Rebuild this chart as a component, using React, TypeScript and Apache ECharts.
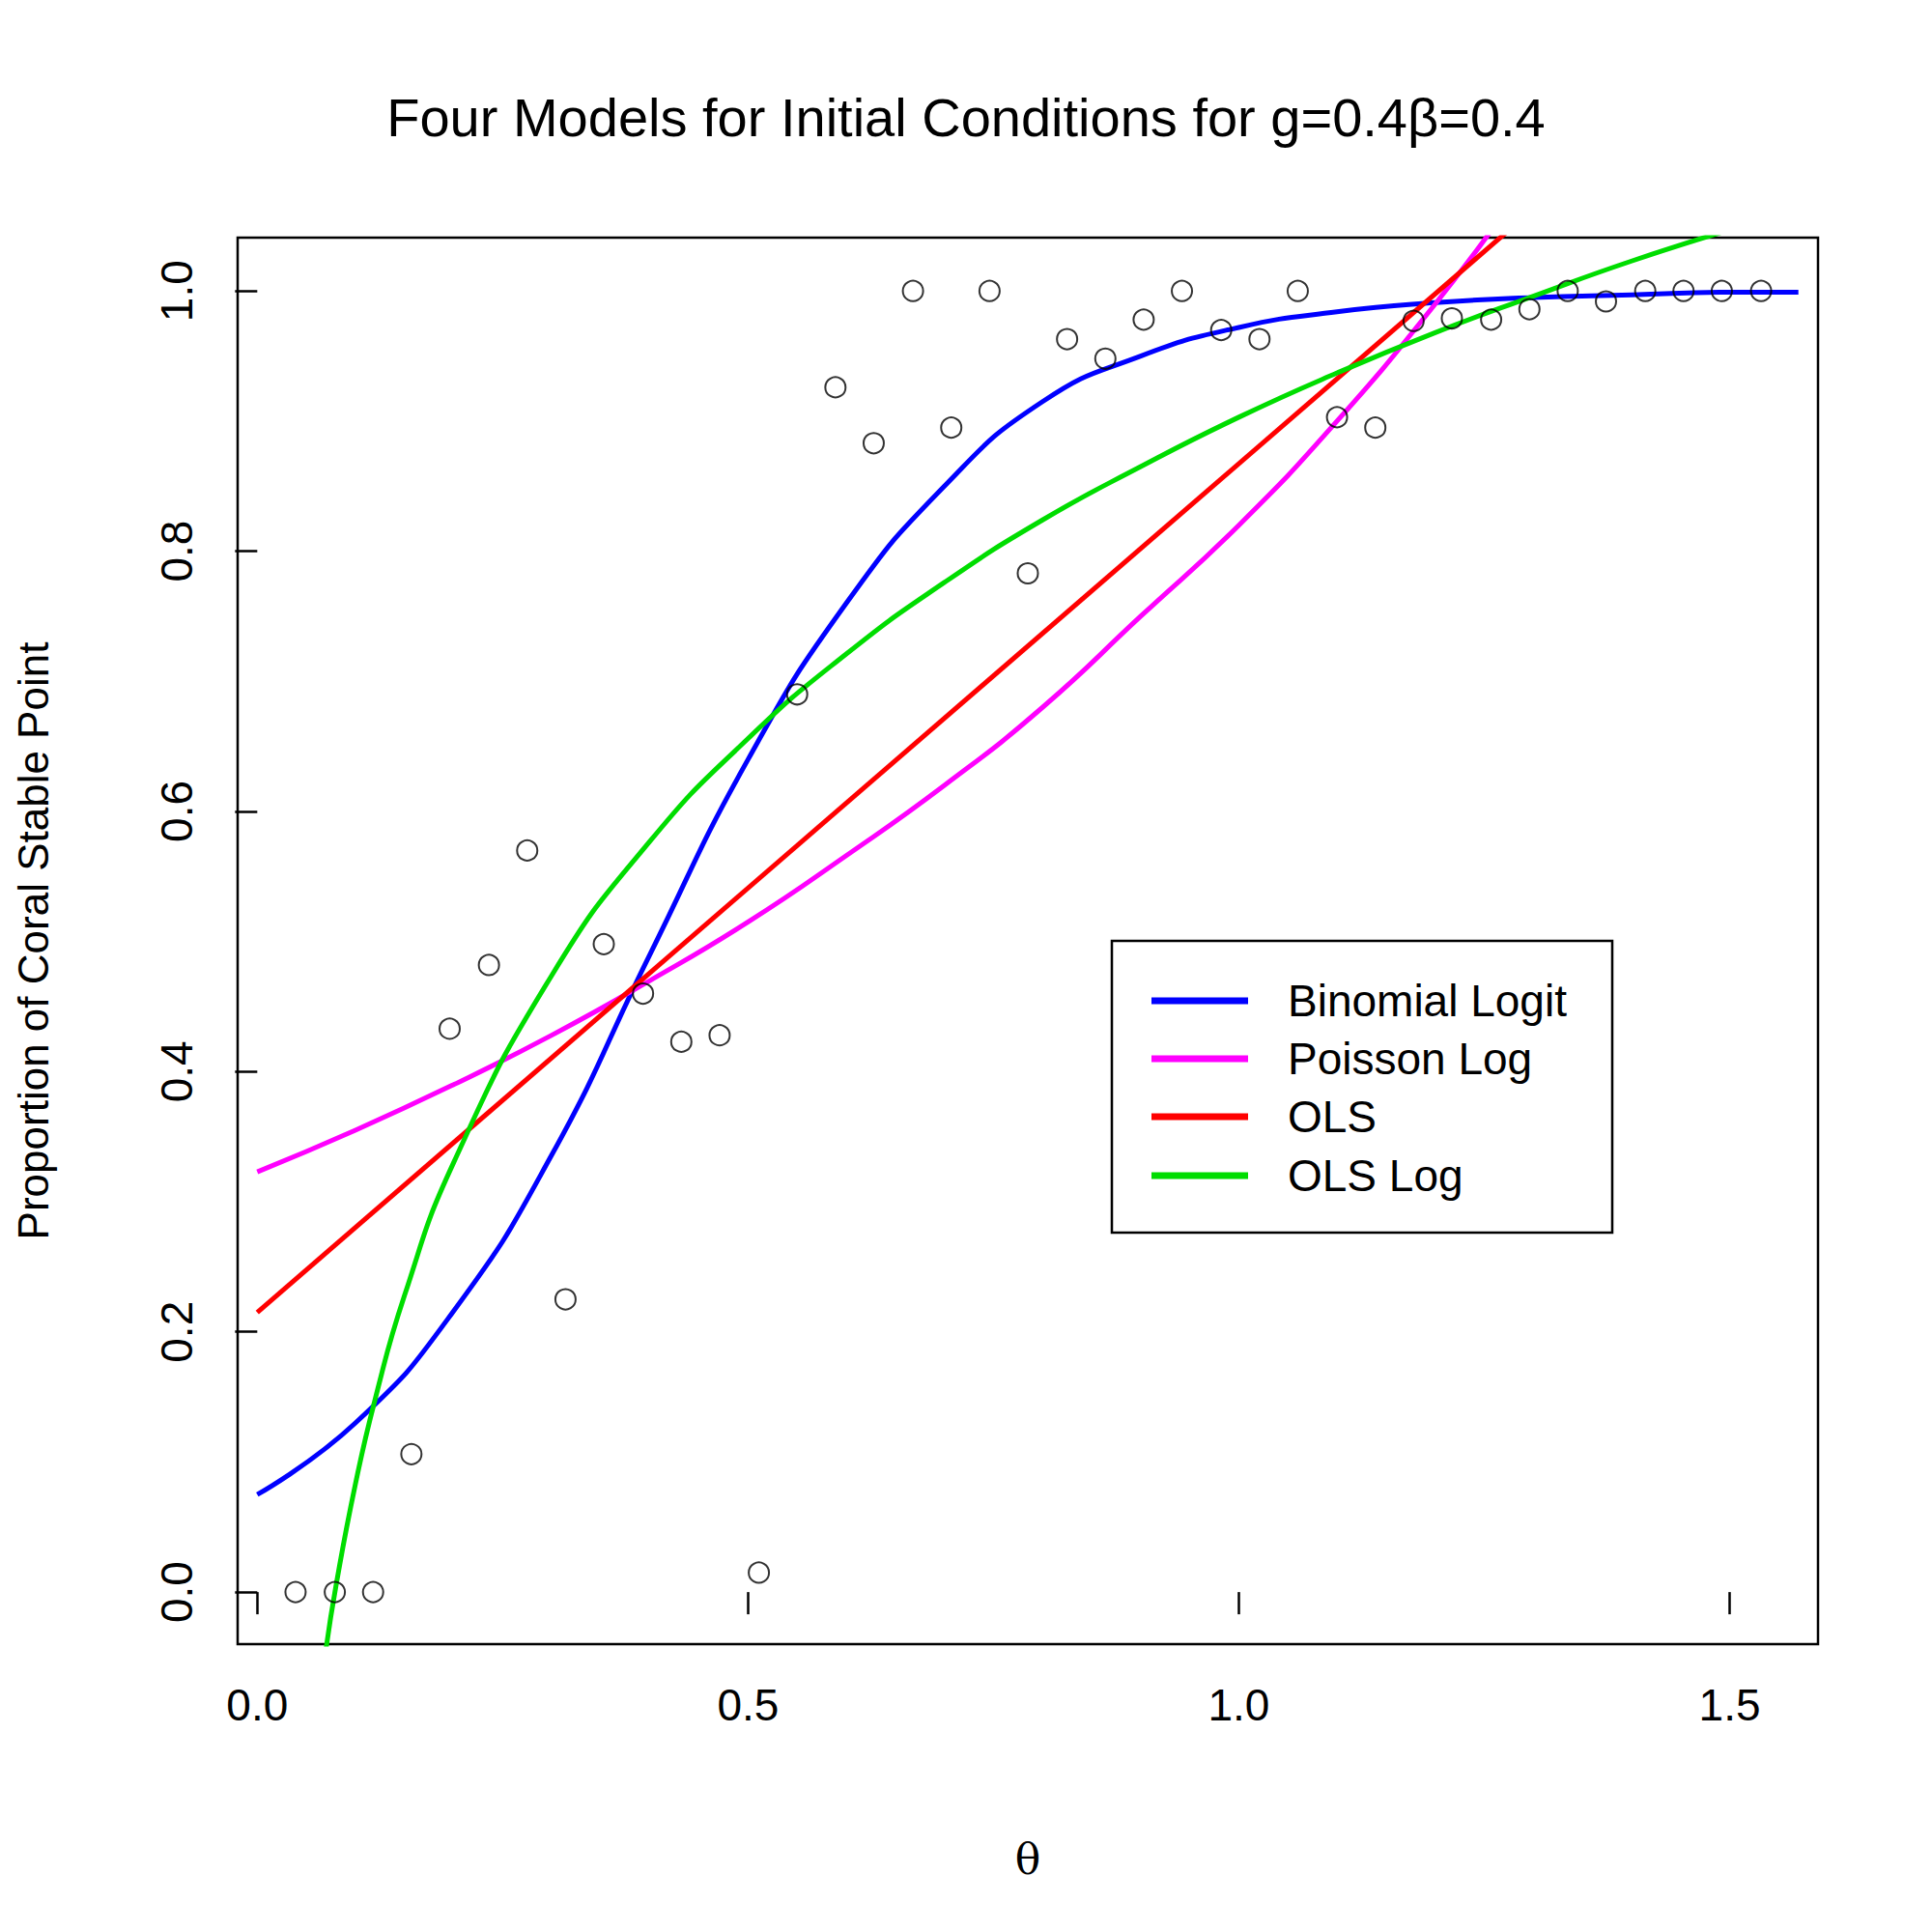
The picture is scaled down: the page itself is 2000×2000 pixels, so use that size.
import React, { useEffect, useRef } from "react";
import * as echarts from "echarts";

const thetaPts = [0.039,0.079,0.118,0.157,0.196,0.236,0.275,0.314,0.353,0.393,0.432,0.471,0.511,0.550,0.589,0.628,0.668,0.707,0.746,0.785,0.825,0.864,0.903,0.942,0.982,1.021,1.060,1.100,1.139,1.178,1.217,1.257,1.296,1.335,1.374,1.414,1.453,1.492,1.532];
const propPts = [0,0,0,0.106,0.433,0.482,0.570,0.225,0.498,0.460,0.423,0.428,0.015,0.690,0.926,0.883,1.0,0.895,1.0,0.783,0.963,0.948,0.978,1.0,0.970,0.963,1.0,0.903,0.895,0.977,0.979,0.978,0.986,1.0,0.992,1.0,1.0,1.0,1.0];

const logitX = [0,0.1,0.2,0.3,0.4,0.5,0.6,0.7,0.8,0.9,1.0,1.1,1.2,1.3,1.4,1.5,1.57];
const logitY = [0.075,0.13,0.216,0.336,0.49,0.64,0.76,0.85,0.915,0.95,0.972,0.984,0.991,0.995,0.997,0.999,0.999];
const poisX = [0,0.1,0.2,0.3,0.4,0.5,0.6,0.7,0.8,0.9,1.0,1.1,1.2,1.27];
const poisY = [0.323,0.355,0.39,0.428,0.47,0.515,0.566,0.62,0.68,0.75,0.82,0.90,0.99,1.06];
const olsX = [0,1.3];
const olsY = [0.215,1.063];
const olsLogX = [0.07,0.08,0.1,0.12,0.15,0.2,0.3,0.4,0.5,0.6,0.7,0.8,0.9,1.0,1.1,1.2,1.3,1.4,1.5];
const olsLogY = [-0.044,0.004,0.083,0.148,0.228,0.330,0.474,0.577,0.656,0.721,0.776,0.824,0.865,0.903,0.937,0.968,0.996,1.023,1.047];

const names = ["Binomial Logit","Poisson Log","OLS","OLS Log"];
const colors = ["#0000ff","#ff00ff","#ff0000","#00dd00"];
const xTicks = [0,0.5,1,1.5];
const yTicks = [0,0.2,0.4,0.6,0.8,1.0];

const zip = (a: number[], b: number[]) => a.map((v, i) => [v, b[i]]);

export default function App() {
  const ref = useRef<HTMLDivElement>(null);
  useEffect(() => {
    const chart = echarts.init(ref.current!, null, { renderer: "svg" });
    const font = "Arial, Liberation Sans, sans-serif";
    const lineSeries = [zip(logitX, logitY), zip(poisX, poisY), zip(olsX, olsY), zip(olsLogX, olsLogY)].map((d, i) => ({
      type: "line", name: names[i], data: d, smooth: true, showSymbol: false, symbol: "none",
      lineStyle: { color: colors[i], width: 5 }, clip: true, z: 2,
    }));
    const legendYs = [1036, 1096, 1156, 1217];
    chart.setOption({
      animation: false,
      backgroundColor: "#fff",
      title: { text: "Four Models for Initial Conditions for g=0.4β=0.4", left: "center", top: 88, textAlign: "left",
        textStyle: { fontFamily: font, fontSize: 56, fontWeight: "normal", color: "#000" } },
      grid: { left: 246, top: 246, width: 1636, height: 1456, show: true, borderColor: "#000", borderWidth: 2.5, backgroundColor: "transparent" },
      xAxis: { type: "value", min: -0.02, max: 1.59, name: "θ", nameLocation: "middle", nameGap: 200,
        nameTextStyle: { fontFamily: "DejaVu Serif, serif", fontSize: 44, color: "#000" },
        axisLine: { show: false }, splitLine: { show: false },
        axisTick: { show: true, inside: false, length: 23, lineStyle: { color: "#000", width: 2.5 }, customValues: xTicks },
        axisLabel: { customValues: xTicks, margin: 40, fontFamily: font, fontSize: 46, color: "#000", formatter: (v: number) => v.toFixed(1) } },
      yAxis: { type: "value", min: -0.04, max: 1.041, name: "Proportion of Coral Stable Point", nameLocation: "middle", nameGap: 190,
        nameTextStyle: { fontFamily: font, fontSize: 44, color: "#000" },
        axisLine: { show: false }, splitLine: { show: false },
        axisTick: { show: true, inside: false, length: 23, lineStyle: { color: "#000", width: 2.5 }, customValues: yTicks },
        axisLabel: { customValues: yTicks, rotate: 90, margin: 40, fontFamily: font, fontSize: 46, color: "#000", formatter: (v: number) => v.toFixed(1) } },
      series: [
        { type: "scatter", data: zip(thetaPts, propPts), symbol: "circle", symbolSize: 21,
          itemStyle: { color: "transparent", borderColor: "#000", borderWidth: 2 }, z: 3 },
        ...lineSeries,
      ],
      graphic: [
        { type: "rect", shape: { x: 1151, y: 974, width: 518, height: 302 }, style: { fill: "#fff", stroke: "#000", lineWidth: 2.5 }, z: 10 },
        ...legendYs.flatMap((y, i) => [
          { type: "line", shape: { x1: 1192, y1: y, x2: 1292, y2: y }, style: { stroke: colors[i], lineWidth: 7 }, z: 11 },
          { type: "text", x: 1333, y, style: { text: names[i], fontFamily: font, fontSize: 46, fill: "#000", verticalAlign: "middle" }, z: 11 },
        ]),
      ],
    });
    return () => chart.dispose();
  }, []);
  return <div ref={ref} style={{ position: "absolute", left: 0, top: 0, width: 2000, height: 2000 }} />;
}
